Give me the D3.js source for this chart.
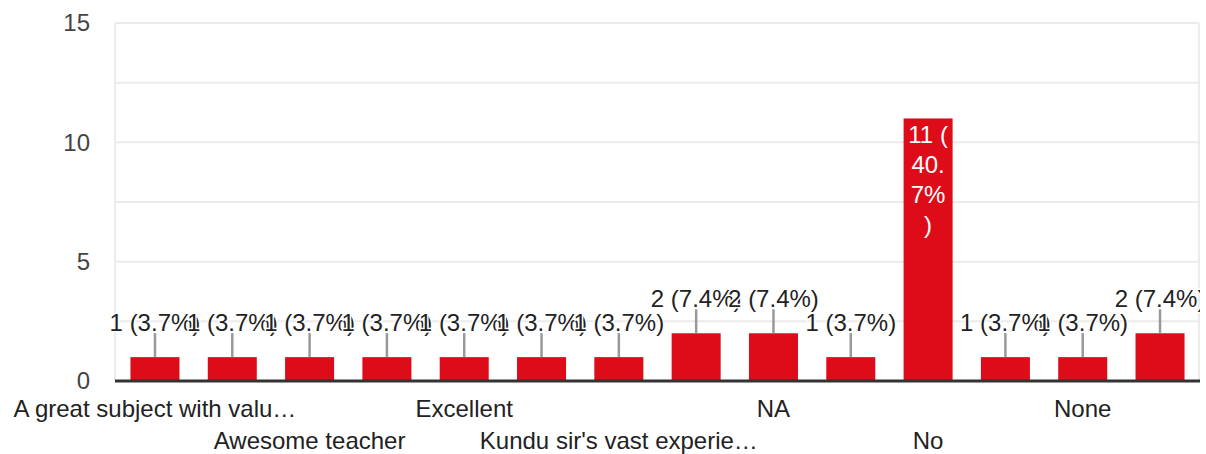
<!DOCTYPE html>
<html>
<head>
<meta charset="utf-8">
<script src="https://cdn.jsdelivr.net/npm/d3@7"></script>
<style>
  html, body { margin: 0; padding: 0; background: #fff; }
  svg { display: block; }
  text { font-family: Arial, "Liberation Sans", sans-serif; }
</style>
</head>
<body>
<svg id="chart" width="1206" height="454"></svg>
<script>
// Responses per answer (sorted alphabetically, as the form summary lists them)
const categories = [
  "A great subject with valu…",
  "Awesome",
  "Awesome teacher",
  "Best teacher",
  "Excellent",
  "Good",
  "Kundu sir's vast experie…",
  "N/A",
  "NA",
  "Nil",
  "No",
  "No comments",
  "None",
  "Nothing"
];
const counts = [1, 1, 1, 1, 1, 1, 1, 2, 2, 1, 11, 1, 1, 2];
const yTicks = [0, 5, 10, 15];
const gridValues = [2.5, 5, 7.5, 10, 12.5, 15];

(function draw() {
  const total = d3.sum(counts);
  const data = categories.map((c, i) => ({ cat: c, v: counts[i], i }));

  const H = 454;
  const plotLeft = 115, plotRight = 1200, plotTop = 23, plotBottom = 381;
  const fontSize = 24;
  const red = "#de0c19";

  const svg = d3.select("#chart");

  svg.append("defs").append("clipPath").attr("id", "clip")
    .append("rect").attr("x", 0).attr("y", 0).attr("width", plotRight).attr("height", H);

  const x = d3.scaleBand()
    .domain(categories)
    .range([plotLeft, plotRight])
    .paddingInner(0.366)
    .paddingOuter(0.2);

  const y = d3.scaleLinear().domain([0, 15]).range([plotBottom, plotTop]);

  const g = svg.append("g").attr("clip-path", "url(#clip)");

  // Gridlines and frame
  g.append("g").selectAll("line").data(gridValues).join("line")
    .attr("x1", plotLeft).attr("x2", plotRight - 1)
    .attr("y1", d => y(d)).attr("y2", d => y(d))
    .attr("stroke", "#ebebeb").attr("stroke-width", 2);
  [plotLeft, plotRight - 1].forEach(xx => {
    g.append("line")
      .attr("x1", xx).attr("x2", xx).attr("y1", plotTop).attr("y2", plotBottom)
      .attr("stroke", "#ebebeb").attr("stroke-width", 2);
  });

  // Y axis tick labels
  const yAxis = d3.axisLeft(y).tickValues(yTicks).tickSize(0).tickPadding(25);
  const ya = svg.append("g").attr("transform", `translate(${plotLeft},0)`).call(yAxis);
  ya.select(".domain").remove();
  ya.selectAll("text")
    .attr("font-size", fontSize)
    .attr("font-family", "Arial, 'Liberation Sans', sans-serif")
    .attr("fill", "#444");

  // Bars
  g.append("g").selectAll("rect").data(data).join("rect")
    .attr("x", d => x(d.cat))
    .attr("width", x.bandwidth())
    .attr("y", d => y(d.v))
    .attr("height", d => y(0) - y(d.v))
    .attr("fill", red);

  // Baseline
  g.append("line")
    .attr("x1", plotLeft).attr("x2", plotRight)
    .attr("y1", plotBottom).attr("y2", plotBottom)
    .attr("stroke", "#333").attr("stroke-width", 3);

  const label = d => `${d.v} (${(d.v / total * 100).toFixed(1)}%)`;

  // Annotations: outside labels with leader lines for short bars
  const ann = g.append("g");
  data.filter(d => d.v < 5).forEach(d => {
    const cx = x(d.cat) + x.bandwidth() / 2;
    const ty = y(d.v);
    ann.append("text")
      .attr("x", cx).attr("y", ty - 26)
      .attr("text-anchor", "middle")
      .attr("font-size", fontSize)
      .attr("fill", "#222")
      .attr("stroke", "#fff").attr("stroke-width", 3)
      .attr("paint-order", "stroke")
      .text(label(d));
    ann.append("line")
      .attr("x1", cx).attr("x2", cx)
      .attr("y1", ty - 24).attr("y2", ty)
      .attr("stroke", "#999").attr("stroke-width", 2.5);
  });

  // break after the opening parenthesis and after the decimal point
  function wrapLabel(s) {
    const m = s.match(/^(\d+ \()(\d+\.)(\d+%)(\))$/);
    return m ? [m[1], m[2], m[3], m[4]] : [s];
  }

  // Inside label for the tall bar, wrapped to the bar width
  data.filter(d => d.v >= 5).forEach(d => {
    const cx = x(d.cat) + x.bandwidth() / 2;
    const t = g.append("text")
      .attr("text-anchor", "middle")
      .attr("font-size", fontSize)
      .attr("fill", "#fff");
    wrapLabel(label(d)).forEach((ln, k) => {
      t.append("tspan").attr("x", cx).attr("y", y(d.v) + 25 + k * 30).text(ln);
    });
  });

  // Category labels, alternating across two rows
  const xa = svg.append("g");
  data.forEach(d => {
    if (d.i % 2 !== 0) return;
    const row = (d.i / 2) % 2;
    xa.append("text")
      .attr("x", x(d.cat) + x.bandwidth() / 2)
      .attr("y", row === 0 ? 417 : 449)
      .attr("text-anchor", "middle")
      .attr("font-size", fontSize)
      .attr("fill", "#222")
      .text(d.cat);
  });
})();
</script>
</body>
</html>
